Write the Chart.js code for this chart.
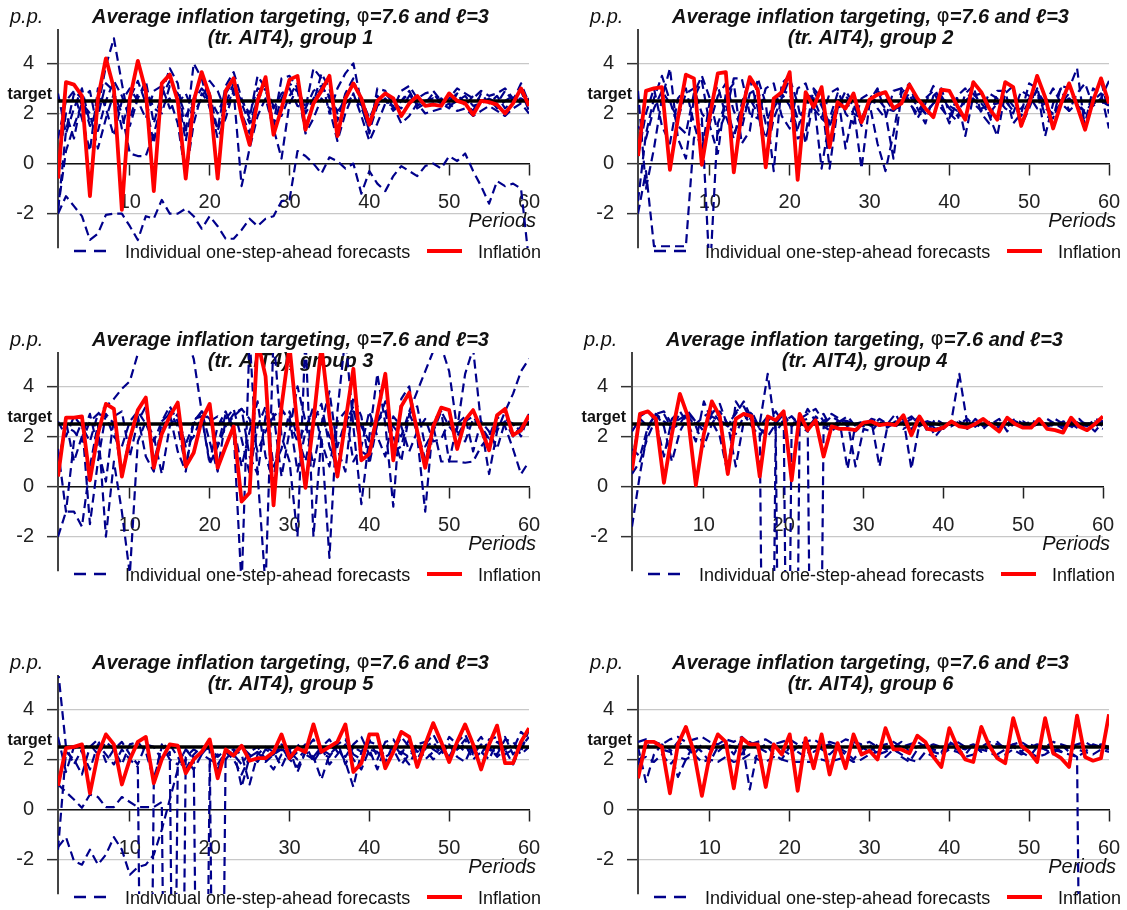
<!DOCTYPE html>
<html>
<head>
<meta charset="utf-8">
<script src="https://cdn.jsdelivr.net/npm/chart.js@4.4.1/dist/chart.umd.min.js"></script>
<style>
  html, body { margin: 0; background: #fff; overflow: hidden; }
  canvas { position: absolute; }
</style>
</head>
<body>
<canvas id="g1" width="547" height="323" style="left:0px;top:0px"></canvas>
<canvas id="g2" width="547" height="323" style="left:580px;top:0px"></canvas>
<canvas id="g3" width="547" height="323" style="left:0px;top:323px"></canvas>
<canvas id="g4" width="547" height="323" style="left:574px;top:323px"></canvas>
<canvas id="g5" width="547" height="323" style="left:0px;top:646px"></canvas>
<canvas id="g6" width="547" height="323" style="left:580px;top:646px"></canvas>
<script>
// periods and axis ticks
const periods = [1, 2, 3, 4, 5, 6, 7, 8, 9, 10, 11, 12, 13, 14, 15, 16, 17, 18, 19, 20,
  21, 22, 23, 24, 25, 26, 27, 28, 29, 30, 31, 32, 33, 34, 35, 36, 37, 38, 39, 40,
  41, 42, 43, 44, 45, 46, 47, 48, 49, 50, 51, 52, 53, 54, 55, 56, 57, 58, 59, 60];
const xTicks = [10, 20, 30, 40, 50, 60];
const yTicks = [-2, 0, 2, 4];
const target = 2.5;

const titleStart = 'Average inflation targeting, ';
const titlePhi = 'φ';
const titleEnd = '=7.6 and ℓ=3';
const subtitle = '(tr. AIT4), group ';
const legendForecast = 'Individual one-step-ahead forecasts';
const legendInflation = 'Inflation';

// group 1
const g1Inflation = [
  -0.6, 3.25, 3.15, 2.7, -1.3, 2.6, 4.2, 3.0, -1.85, 2.6,
  4.1, 2.9, -1.1, 3.2, 3.55, 2.5, -0.6, 2.5, 3.65, 2.7,
  -0.6, 2.9, 3.4, 1.9, 0.75, 2.5, 3.45, 1.15, 2.2, 3.35,
  3.5, 1.35, 2.4, 2.9, 3.5, 1.1, 2.6, 3.2, 2.6, 1.55,
  2.5, 2.8, 2.6, 1.9, 2.4, 2.7, 2.3, 2.35, 2.3, 2.8,
  2.5, 2.4, 1.95, 2.5, 2.45, 2.35, 2.0, 2.4, 3.0, 2.3];
const g1Forecasts = [
  [-2.0, -1.3, -1.7, -2.1, -3.05, -2.8, -2.05, -2.0, -2.0, -2.5,
   -3.05, -2.1, -2.2, -1.45, -2.0, -2.0, -1.8, -2.1, -2.6, -2.1,
   -2.5, -3.0, -3.0, -2.65, -2.2, -2.5, -2.2, -2.1, -1.5, -1.45,
   0.5, 0.3, 0.0, -0.4, 0.25, 0.1, -0.2, 0.0, -1.2, -0.3,
   -0.8, -1.1, -0.5, -0.1, -0.3, -0.5, -0.1, 0.0, -0.2, 0.3,
   0.1, 0.4, -0.3, -0.9, -1.6, -0.7, -0.9, -0.8, -1.0, -3.9],
  [1.0, 2.5, 2.9, 2.6, 1.5, 2.2, 3.9, 5.0, 3.2, 1.5,
   2.6, 3.3, 1.6, 2.8, 3.8, 3.2, 1.2, 4.0, 3.4, 2.2,
   1.4, 3.1, 3.65, 2.6, 1.8, 3.5, 3.0, 1.6, 3.4, 3.5,
   3.0, 2.2, 3.8, 3.4, 2.0, 3.0, 3.6, 4.0, 2.4, 1.2,
   3.0, 2.9, 2.2, 2.9, 3.1, 2.6, 2.8, 2.9, 2.5, 2.6,
   3.0, 2.8, 2.6, 2.9, 2.7, 2.8, 3.0, 2.6, 2.9, 2.1],
  [-1.8, 0.5, 1.5, 2.4, 2.0, 0.6, 1.8, 2.8, 2.0, 0.4,
   0.3, 0.3, 1.2, 2.3, 2.6, 1.6, -0.5, 1.6, 2.8, 2.4,
   1.0, 1.8, 2.9, -0.9, 0.6, 1.9, 2.6, 1.4, 0.2, 2.4,
   3.0, 1.2, 1.8, 2.6, 2.2, 0.9, 2.0, 2.8, 1.9, 0.9,
   1.6, 2.4, 2.3, 1.6, 1.9, 2.4, 2.0, 2.1, 2.2, 2.4,
   2.1, 2.2, 1.9, 2.1, 2.3, 2.1, 1.9, 2.2, 2.4, 2.0],
  [2.8, 1.2, 2.2, 3.0, 1.6, 1.9, 3.2, 2.9, 1.4, 2.6,
   3.3, 2.4, 0.8, 2.7, 3.3, 2.7, 0.9, 2.6, 3.5, 2.8,
   1.3, 2.4, 3.2, 2.0, 1.2, 2.7, 3.2, 1.5, 2.6, 3.2,
   2.9, 1.5, 2.4, 3.6, 3.0, 1.7, 2.8, 3.4, 2.3, 1.3,
   2.3, 2.6, 2.1, 2.5, 2.8, 2.2, 2.4, 2.8, 2.4, 2.2,
   2.8, 2.4, 2.1, 2.8, 2.4, 2.7, 2.2, 2.5, 3.2, 2.4],
  [-1.9, 1.3, 2.8, 1.8, 0.5, 3.0, 2.2, 1.1, 2.5, 3.0,
   2.5, 1.8, 2.9, 3.1, 2.2, 2.4, 2.8, 2.0, 2.6, 3.3,
   2.9, 2.1, 3.0, 2.5, 2.0, 3.0, 2.9, 2.2, 2.8, 3.0,
   2.3, 2.2, 2.9, 3.1, 2.6, 2.1, 2.4, 2.7, 2.2, 1.6,
   2.7, 2.4, 2.6, 2.5, 2.9, 2.3, 2.5, 2.6, 2.4, 2.5,
   2.8, 2.3, 2.7, 2.5, 2.6, 2.4, 2.9, 2.5, 2.6, 2.4],
  [0.0, 2.0, 1.0, 2.6, 2.9, 1.3, 2.5, 3.3, 2.7, 1.8,
   2.8, 3.0, 2.2, 2.0, 3.1, 2.8, 1.9, 2.5, 3.0, 2.6,
   2.0, 2.8, 3.3, 2.4, 1.6, 2.6, 3.0, 2.3, 1.9, 2.7,
   3.2, 2.0, 2.6, 3.0, 2.7, 2.0, 2.6, 3.2, 2.6, 1.8,
   2.5, 2.8, 2.4, 2.2, 2.7, 2.6, 2.3, 2.4, 2.6, 2.3,
   2.5, 2.7, 2.3, 2.4, 2.6, 2.2, 2.5, 2.7, 2.4, 2.6]
];

// group 2
const g2Inflation = [
  0.3, 2.9, 3.0, 3.05, -0.25, 1.8, 3.55, 3.4, -0.05, 1.9,
  3.6, 3.65, -0.35, 2.1, 3.45, 2.95, -0.15, 2.6, 2.85, 3.65,
  -0.65, 2.85, 2.25, 3.05, 0.65, 2.45, 2.2, 2.8, 1.65, 2.55,
  2.75, 2.85, 2.2, 2.4, 3.15, 2.6, 2.2, 1.85, 2.95, 2.9,
  2.3, 1.75, 3.25, 2.85, 2.2, 1.75, 3.25, 3.05, 1.5, 2.4,
  3.5, 2.65, 1.4, 2.4, 3.2, 2.3, 1.35, 2.5, 3.4, 2.4];
const g2Forecasts = [
  [-2.0, -0.3, -3.3, -3.3, -3.3, -3.3, -3.3, 1.0, 1.8, -4.5,
   1.6, 2.4, 1.2, 1.8, 2.6, 2.0, 1.0, 2.2, 2.8, 2.3,
   1.4, 2.4, 2.6, 1.8, 1.5, 2.3, 2.5, 2.0, 1.8, 2.4,
   2.6, 2.2, 2.1, 2.5, 2.7, 2.3, 2.0, 2.4, 2.6, 2.3,
   2.1, 2.5, 2.6, 2.2, 2.3, 2.4, 2.5, 2.1, 2.2, 2.6,
   2.7, 2.2, 2.0, 2.4, 2.6, 2.3, 2.1, 2.4, 2.5, 2.3],
  [2.9, -1.0, 0.6, 2.6, 3.8, 1.0, 0.2, 2.6, 3.3, 1.5,
   0.4, 2.8, 3.2, 0.8, 1.3, 3.4, 2.4, -0.3, 3.2, 3.5,
   1.0, 1.2, 3.0, 2.6, -0.2, 2.2, 2.9, 2.4, 1.5, 2.5,
   3.0, 2.0, 0.2, 2.8, 3.2, 2.2, 1.6, 2.7, 3.0, 2.0,
   1.7, 2.8, 3.1, 2.0, 1.6, 2.9, 2.9, 1.6, 2.0, 3.2,
   3.0, 1.9, 1.8, 3.1, 3.0, 3.8, 1.4, 2.6, 3.3, 2.0],
  [0.3, 2.0, 3.0, 1.5, 0.8, 2.6, 3.0, 1.6, 0.5, 2.5,
   3.1, 1.9, 1.0, 2.4, 3.4, 2.2, 0.2, 1.8, 2.6, 3.4,
   2.4, 0.8, 2.6, -0.2, 1.8, 2.8, 0.6, 2.2, -0.2, 2.4,
   0.8, -0.3, 1.2, 3.0, 2.5, 1.8, 2.4, 3.1, 2.4, 1.6,
   2.6, 1.1, 2.7, 2.8, 1.9, 1.1, 2.8, 3.1, 1.5, 2.2,
   3.0, 1.1, 2.4, 3.0, 2.1, 2.4, 1.6, 3.0, 2.8, 1.4],
  [1.5, 1.0, 2.2, 2.9, 2.4, 1.8, 2.8, 3.0, 2.0, 1.6,
   2.7, 3.2, 2.1, 1.4, 2.8, 3.0, 1.6, 2.4, 2.9, 2.8,
   1.8, 2.2, 2.9, 2.3, 1.6, 2.4, 2.7, 2.3, 1.8, 2.5,
   2.9, 2.6, 2.1, 2.4, 2.8, 2.5, 2.0, 2.4, 2.7, 2.2,
   1.9, 2.5, 2.8, 2.4, 2.0, 2.4, 2.7, 2.3, 1.9, 2.5,
   2.9, 2.4, 1.9, 2.4, 2.8, 2.5, 2.0, 2.5, 2.8, 2.3],
  [-1.5, 1.2, 2.6, 3.5, 2.5, 1.5, 1.2, 2.8, 3.5, 2.6,
   1.2, 2.0, 3.4, 3.4, 2.0, 1.8, 3.0, 3.2, 1.9, 1.4,
   3.0, 3.2, 2.2, 1.8, 2.8, 3.0, 2.0, 1.6, 2.6, 2.8,
   2.2, 1.8, 2.9, 3.0, 2.4, 2.0, 2.6, 2.9, 2.2, 1.8,
   2.7, 3.0, 2.4, 2.1, 2.8, 2.6, 2.2, 2.0, 2.9, 2.7,
   2.2, 2.4, 3.0, 2.4, 2.1, 2.8, 3.2, 2.3, 2.6, 3.3]
];

// group 3
const g3Inflation = [
  0.4, 2.75, 2.75, 2.8, 0.25, 2.1, 3.3, 3.1, 0.4, 1.9,
  3.05, 3.55, 0.75, 2.1, 2.8, 3.35, 0.8, 1.35, 2.65, 3.3,
  0.75, 1.6, 2.4, -0.6, -0.25, 5.8, 4.4, -0.75, 3.2, 5.6,
  2.4, -0.05, 2.6, 5.6, 2.8, 0.4, 2.6, 4.7, 1.05, 1.3,
  2.9, 4.5, 1.05, 3.2, 3.75, 2.2, 0.75, 2.4, 3.15, 3.05,
  1.5, 2.65, 3.05, 2.3, 1.45, 2.85, 3.1, 2.05, 2.25, 2.85];
const g3Forecasts = [
  [1.0, 2.4, 2.2, 1.8, 2.6, 2.9, 3.2, 3.5, 3.9, 4.2,
   5.3, 6.4, 7.0, 7.2, 7.0, 6.6, 6.0, 5.1, 3.0, 2.6,
   2.8, 2.4, 2.9, 3.1, 2.7, 1.4, 2.2, 2.8, 3.1, 2.6,
   1.8, 2.4, 3.0, 2.8, 2.0, 1.6, 2.6, 3.0, 2.4, 1.8,
   2.7, 3.0, 2.4, 2.0, 3.0, 3.8, 4.6, 5.4, 5.6, 4.6,
   2.3, 4.5, 5.5, 2.5, 0.5, 2.2, 3.0, 3.7, 4.6, 5.1],
  [-2.0, -1.0, -1.0, -1.6, 0.8, 2.5, -2.0, 1.0, -1.0, -3.5,
   1.8, 2.6, 2.0, 0.5, 2.4, 2.9, 1.6, 2.0, 2.8, 1.0,
   2.4, 3.0, 2.2, -4.0, 6.0, 0.5, -4.0, 6.0, 2.0, 1.0,
   -2.0, 6.0, -2.0, 2.0, -2.85, 3.0, 6.0, 2.4, -0.7, 2.0,
   4.5, 2.5, -0.8, 3.5, 4.0, 2.0, -1.0, 2.6, 3.0, 1.0,
   2.5, 2.8, 1.4, 2.6, 2.2, 1.5, 2.6, 2.5, 2.0, 2.9],
  [0.5, 2.6, 1.0, 2.0, 2.9, 1.5, 0.2, 2.8, 3.0, 1.2,
   2.6, 3.2, 1.0, 2.2, 3.0, 2.4, 0.8, 2.6, 3.0, 1.8,
   0.6, 2.7, 3.1, 1.9, 0.5, 2.4, 3.2, 0.8, 1.5, 3.0,
   2.0, 1.0, 2.6, 3.3, 1.6, 0.7, 2.5, 3.2, 1.4, 1.2,
   2.6, 3.0, 1.4, 1.6, 2.9, 2.2, 1.1, 2.4, 1.0, 1.0,
   1.0, 0.95, 1.0, 1.6, 2.0, 2.8, 2.4, 1.5, 0.5, 1.0],
  [2.6, 2.0, 2.8, 2.4, 1.8, 2.9, 2.8, 2.0, 1.6, 2.6,
   3.0, 2.5, 1.8, 2.6, 3.2, 2.6, 1.7, 2.5, 3.0, 2.7,
   1.6, 2.4, 2.8, 3.1, 1.2, 0.5, 2.8, 2.9, 0.4, 2.2,
   4.0, 2.6, 0.8, 2.5, 3.8, 1.5, 0.6, 3.6, 2.8, 0.9,
   2.5, 3.4, 2.0, 1.0, 2.9, 3.2, 1.6, 2.2, 3.0, 2.4,
   2.0, 2.6, 2.8, 2.3, 1.8, 2.4, 2.7, 2.5, 2.2, 2.8],
  [1.5, -1.0, 1.8, 2.6, -1.5, 1.0, 2.9, 2.5, 0.5, 2.0,
   2.8, 1.2, 0.6, 2.6, 2.9, 1.4, 0.6, 2.7, 2.8, 0.9,
   1.6, 2.9, 2.4, 0.8, 2.2, 3.4, 1.2, 0.2, 3.0, 2.8,
   0.6, 2.2, 3.2, 1.8, 0.8, 2.6, 3.0, 1.0, 1.6, 3.0,
   2.0, 1.2, 2.8, 2.4, 1.4, 2.2, 2.7, 1.8, 1.9, 2.6,
   2.2, 1.8, 2.7, 2.4, 1.9, 2.3, 2.6, 2.0, 2.4, 2.6]
];

// group 4
const g4Inflation = [
  0.65, 2.9, 3.0, 2.7, 0.15, 2.1, 3.7, 2.8, 0.05, 2.1,
  3.4, 2.8, 0.5, 2.7, 2.9, 2.8, 0.4, 2.8, 2.65, 3.0,
  0.25, 2.9, 2.25, 2.65, 1.2, 2.4, 2.3, 2.3, 2.25, 2.55,
  2.6, 2.45, 2.5, 2.45, 2.85, 2.05, 2.8, 2.3, 2.25, 2.35,
  2.6, 2.4, 2.35, 2.5, 2.7, 2.45, 2.2, 2.75, 2.5, 2.35,
  2.35, 2.7, 2.3, 2.25, 2.15, 2.75, 2.4, 2.25, 2.5, 2.8];
const g4Forecasts = [
  [-1.6, 0.5, 2.3, 2.9, 2.6, 2.4, 2.9, 2.7, 2.5, 2.8,
   3.0, 2.6, 2.4, 3.0, 3.2, 2.6, 2.5, 4.5, 2.2, 2.6,
   2.8, 2.5, 2.4, 2.7, 2.9, 2.3, 2.6, 2.8, 2.4, 2.5,
   2.6, 2.45, 2.35, 2.6, 2.5, 2.3, 2.65, 2.4, 2.5, 2.4,
   2.6, 4.5, 2.5, 2.4, 2.65, 2.5, 2.35, 2.6, 2.5, 2.4,
   2.65, 2.5, 2.4, 2.6, 2.45, 2.35, 2.6, 2.5, 2.4, 2.6],
  [0.5, 1.0, 2.0, 2.7, 2.9, 2.3, 2.5, 3.0, 2.6, 2.2,
   2.9, 3.3, 2.4, 2.1, 2.8, 2.9, 2.3, -30, 2.4, -30,
   2.6, 2.4, 2.2, 2.8, 2.5, 2.3, 2.7, 2.4, 2.2, 2.5,
   2.6, 0.8, 2.4, 2.5, 2.7, 0.7, 2.5, 2.6, 2.3, 2.4,
   2.6, 2.5, 2.6, 2.4, 2.5, 2.6, 2.4, 2.5, 2.7, 2.5,
   2.4, 2.6, 2.5, 2.4, 2.6, 2.5, 2.3, 2.5, 2.6, 2.4],
  [1.5, 1.2, 2.4, 2.9, 2.4, 1.0, 2.2, 2.8, 2.4, 1.6,
   2.5, 3.0, 2.5, 0.8, 2.6, 3.0, 2.3, 2.0, 2.5, 2.9,
   -30, 2.6, 2.7, -30, 2.4, 2.2, 2.5, 2.6, 0.8, 2.3,
   2.2, 2.6, 2.5, 2.4, 2.6, 2.8, 2.5, 2.6, 2.0, 2.4,
   2.5, 2.6, 2.4, 2.5, 2.3, 2.6, 2.5, 2.4, 2.6, 2.4,
   2.5, 2.6, 2.4, 2.5, 2.3, 2.6, 2.4, 2.5, 2.2, 2.6],
  [1.0, 2.8, 3.0, 2.6, 1.2, 2.7, 3.0, 2.5, 1.8, 3.4,
   2.6, 2.0, 0.5, 3.4, 2.9, 2.4, 2.0, 2.6, 3.0, 2.5,
   2.8, 2.4, 3.1, 2.6, 2.5, 2.8, 2.6, 0.7, 2.5, 2.6,
   2.4, 2.7, 2.5, 2.9, 2.3, 2.5, 2.8, 2.2, 2.7, 2.5,
   2.4, 2.6, 2.3, 2.7, 2.4, 2.5, 2.7, 2.2, 2.6, 2.5,
   2.3, 2.6, 2.4, 2.7, 2.5, 2.4, 2.7, 2.4, 2.5, 2.3],
  [2.2, 2.7, 2.4, 2.9, 3.0, 2.5, 2.7, 2.9, 2.6, 2.4,
   2.8, 2.6, 2.5, 2.9, 3.4, 2.7, 2.4, 2.8, 2.6, 2.9,
   2.4, 2.7, 2.9, 3.1, 2.6, 2.9, 2.7, 2.6, 2.5, 2.4,
   2.7, 2.6, 2.4, 2.6, 2.5, 2.7, 2.4, 2.6, 2.5, 2.3,
   2.6, 2.5, 2.7, 2.4, 2.6, 2.5, 2.4, 2.7, 2.5, 2.6,
   2.4, 2.5, 2.7, 2.5, 2.4, 2.6, 2.5, 2.4, 2.7, 2.6]
];

// group 5
const g5Inflation = [
  0.95, 2.45, 2.5, 2.6, 0.65, 2.2, 3.0, 2.6, 1.0, 2.0,
  2.7, 2.9, 1.05, 2.0, 2.6, 2.55, 1.45, 2.0, 2.3, 2.8,
  1.25, 2.4, 2.15, 2.55, 1.95, 2.05, 2.05, 2.3, 3.0, 2.05,
  2.45, 2.3, 3.4, 2.3, 2.5, 2.7, 3.4, 1.5, 1.85, 3.0,
  3.0, 1.65, 2.3, 3.1, 2.9, 1.7, 2.6, 3.45, 2.7, 1.9,
  2.7, 3.4, 2.6, 1.6, 2.6, 3.35, 1.85, 1.85, 2.7, 3.25];
const g5Forecasts = [
  [5.6, 2.5, 1.8, 2.4, 2.6, 2.2, 2.7, 2.4, 1.8, 2.6,
   2.7, 2.3, 1.2, 2.5, 2.6, 2.1, 1.6, 2.2, 2.5, 2.4,
   1.6, 2.3, 2.4, 2.2, 1.0, 2.2, 2.5, 2.3, 1.7, 2.4,
   2.6, 2.2, 2.0, 2.5, 2.8, 2.3, 2.1, 2.6, 2.9, 2.2,
   2.0, 2.7, 2.8, 2.3, 2.1, 2.6, 2.7, 2.4, 2.2, 2.9,
   2.6, 2.3, 2.5, 2.9, 2.4, 2.2, 2.8, 2.7, 2.3, 3.2],
  [-1.5, -1.1, -2.05, -2.2, -1.6, -2.2, -1.8, -1.1, -1.6, -2.6,
   -2.3, -2.2, -1.8, -0.8, 0.4, 1.6, 2.0, 1.6, 2.2, 2.0,
   1.8, 2.3, 2.0, 1.4, 2.1, 2.3, 1.9, 2.2, 2.4, 2.0,
   1.7, 2.3, 2.1, 2.5, 1.8, 2.2, 2.6, 2.0, 1.6, 2.4,
   2.3, 1.9, 2.6, 2.2, 1.8, 2.5, 2.4, 2.0, 2.3, 2.6,
   2.1, 1.9, 2.6, 2.3, 2.0, 2.7, 2.4, 1.8, 2.5, 2.9],
  [1.0, 0.7, 0.4, 0.07, 0.6, 0.5, 0.1, 0.1, 0.5, 0.3,
   0.1, 0.1, 0.1, 0.3, -30, 1.8, 2.4, 2.0, 2.3, 2.5,
   2.1, 2.4, 2.2, 1.8, 2.3, 2.5, 2.0, 2.2, 2.6, 2.3,
   2.0, 2.4, 2.8, 2.2, 2.1, 2.6, 2.8, 2.2, 2.0, 2.7,
   2.6, 2.1, 2.3, 2.9, 2.5, 2.0, 2.6, 3.0, 2.4, 2.1,
   2.7, 3.0, 2.3, 2.2, 2.8, 2.9, 2.2, 2.4, 3.1, 2.8],
  [2.9, 1.5, 2.5, 2.3, 1.6, 2.6, 2.2, 1.8, 2.4, 2.0,
   1.7, -30, 1.1, 2.6, 2.0, 1.8, 2.4, 2.1, -30, 1.8,
   2.2, 2.0, 2.4, 0.9, 2.1, 2.3, 2.0, 1.6, 2.2, 2.4,
   1.5, 2.3, 2.1, 1.2, 2.2, 2.5, 1.9, 0.9, 2.3, 2.4,
   1.6, 2.5, 2.4, 1.8, 2.2, 2.6, 2.0, 2.3, 2.5, 2.1,
   2.4, 2.6, 2.0, 2.3, 2.5, 2.1, 2.4, 2.6, 2.2, 2.5],
  [-1.6, 2.3, 2.0, 1.4, 2.5, 2.8, 1.9, 2.4, 2.7, 2.2,
   1.8, 2.6, 2.5, 2.0, 2.3, -30, 2.1, 2.4, 2.2, 2.6,
   -30, 2.3, 2.1, 2.5, 2.2, 1.9, 2.4, 2.2, 2.5, 2.0,
   2.3, 2.6, 1.9, 2.4, 2.2, 2.7, 1.8, 2.5, 2.3, 2.8,
   2.1, 2.6, 2.4, 2.2, 2.8, 2.3, 2.5, 2.7, 2.2, 2.6,
   2.4, 2.8, 2.2, 2.6, 2.4, 2.3, 2.9, 2.2, 2.6, 2.8]
];

// group 6
const g6Inflation = [
  1.25, 2.7, 2.7, 2.5, 0.65, 2.6, 3.3, 2.3, 0.55, 2.2,
  3.0, 2.7, 0.85, 2.85, 2.6, 2.6, 0.9, 2.6, 2.2, 3.0,
  0.75, 2.85, 1.65, 3.0, 1.4, 2.65, 1.65, 3.0, 2.2, 2.35,
  2.0, 3.25, 2.4, 2.4, 2.25, 2.95, 2.7, 2.1, 1.7, 3.25,
  2.5, 2.0, 1.9, 3.3, 2.55, 2.05, 1.85, 3.65, 2.55, 2.3,
  1.9, 3.65, 2.25, 2.05, 1.7, 3.75, 2.1, 1.95, 2.05, 3.8];
const g6Forecasts = [
  [2.5, 1.1, 2.2, 2.6, 2.4, 1.3, 2.0, 2.6, 2.3, 1.9,
   2.5, 2.6, 2.2, 2.8, 0.8, 2.4, 2.6, 2.2, 2.0, 2.5,
   2.3, 2.1, 2.6, 2.4, 2.2, 2.5, 2.3, 2.0, 2.4, 2.6,
   2.2, 2.3, 2.5, 2.1, 1.9, 2.4, 2.6, 2.3, 2.2, 2.5,
   2.4, 2.2, 2.6, 2.3, 2.5, 2.2, 2.4, 2.6, 2.3, 2.1,
   2.5, 2.4, 2.2, 2.6, 2.3, 2.1, -30, -30, -30, -30],
  [2.7, 2.8, 2.7, 2.6, 2.8, 2.9, 2.7, 2.8, 2.9, 2.7,
   2.6, 2.8, 2.7, 2.9, 2.6, 2.7, 2.8, 2.6, 2.7, 2.8,
   2.6, 2.7, 2.8, 2.6, 2.7, 2.6, 2.8, 2.7, 2.6, 2.7,
   2.5, 2.6, 2.7, 2.5, 2.6, 2.7, 2.5, 2.6, 2.5, 2.6,
   2.7, 2.5, 2.6, 2.5, 2.7, 2.6, 2.5, 2.6, 2.7, 2.5,
   2.6, 2.5, 2.7, 2.6, 2.5, 2.6, 2.7, 2.5, 2.6, 2.5],
  [2.0, 2.1, 1.9, 2.2, 1.8, 2.1, 2.0, 2.2, 1.9, 2.0,
   1.9, 2.1, 1.9, 2.0, 2.2, 2.0, 1.9, 2.1, 2.0, 1.9,
   1.9, 1.9, 1.9, 2.0, 1.9, 2.0, 2.1, 1.9, 2.0, 2.2,
   2.3, 2.1, 2.4, 2.2, 2.0, 1.9, 2.3, 2.1, 2.2, 2.4,
   2.3, 2.1, 2.2, 2.4, 2.3, 2.1, 2.2, 2.4, 2.2, 2.3,
   2.1, 2.2, 2.4, 2.3, 2.2, 2.1, 2.3, 2.2, 2.4, 2.3],
  [1.8, 2.5, 2.7, 2.4, 2.3, 2.7, 2.5, 2.2, 2.6, 2.4,
   2.3, 2.6, 2.5, 2.2, 2.7, 2.5, 2.3, 2.6, 2.4, 2.2,
   2.5, 2.7, 2.3, 2.5, 2.6, 2.4, 2.2, 2.6, 2.5, 2.3,
   2.6, 2.4, 2.5, 2.7, 2.3, 2.5, 2.6, 2.4, 2.3, 2.7,
   2.5, 2.4, 2.6, 2.3, 2.5, 2.7, 2.4, 2.5, 2.3, 2.6,
   2.5, 2.4, 2.6, 2.3, 2.5, 2.4, 2.3, 2.6, 2.5, 2.4]
];

const FONT = '"Liberation Sans", Arial, sans-serif';
const NAVY = '#00008b';
const RED = '#ff0000';

// titles, p.p., target label, "Periods" and the legend
const panelText = {
  id: 'panelText',
  beforeDatasetsDraw(chart, args, opts) {
    const {ctx, chartArea: a} = chart;
    const y = chart.scales.y;
    ctx.save();
    ctx.fillStyle = '#111';
    ctx.textBaseline = 'middle';

    ctx.textAlign = 'left';
    ctx.font = 'italic 20px ' + FONT;
    ctx.fillText('p.p.', 10, 17);

    const cx = (a.left + a.right) / 2 - 3;
    const bi = 'italic bold 20px ' + FONT;
    const parts = [[bi, titleStart], ['20px "DejaVu Sans"', titlePhi], [bi, titleEnd]];
    let w = 0;
    parts.forEach(([f, t]) => { ctx.font = f; w += ctx.measureText(t).width; });
    let x = cx - w / 2;
    parts.forEach(([f, t]) => {
      ctx.font = f;
      ctx.fillText(t, x, 17);
      x += ctx.measureText(t).width;
    });
    ctx.font = bi;
    ctx.textAlign = 'center';
    ctx.fillText(subtitle + opts.group, cx, 38);

    ctx.font = 'bold 16px ' + FONT;
    ctx.textAlign = 'right';
    ctx.fillText('target', a.left - 6, y.getPixelForValue(target) - 6);

    ctx.font = 'italic 20px ' + FONT;
    ctx.fillText('Periods', a.right + 7, 221);

    // legend
    ctx.lineWidth = 2.5;
    ctx.strokeStyle = NAVY;
    ctx.setLineDash([12, 8]);
    ctx.beginPath();
    ctx.moveTo(a.left + 16, 251);
    ctx.lineTo(a.left + 49, 251);
    ctx.stroke();
    ctx.setLineDash([]);
    ctx.strokeStyle = RED;
    ctx.lineWidth = 4;
    ctx.beginPath();
    ctx.moveTo(a.left + 369, 251);
    ctx.lineTo(a.left + 404, 251);
    ctx.stroke();
    ctx.font = '18px ' + FONT;
    ctx.textAlign = 'left';
    ctx.fillText(legendForecast, a.left + 67, 253);
    ctx.fillText(legendInflation, a.left + 420, 253);
    ctx.restore();
  }
};

function toPoints(vals) {
  return periods.map((p, i) => ({x: p, y: vals[i]}));
}

function makePanel(id, group, inflation, forecasts) {
  const datasets = forecasts.map(f => ({
    data: toPoints(f),
    borderColor: NAVY,
    borderWidth: 2.2,
    borderDash: [9, 5],
    order: 2
  }));
  datasets.push({
    data: [{x: periods[0], y: target}, {x: periods[periods.length - 1], y: target}],
    borderColor: '#000',
    borderWidth: 3.5,
    order: 1
  });
  datasets.push({
    data: toPoints(inflation),
    borderColor: RED,
    borderWidth: 3.8,
    order: 0
  });

  new Chart(document.getElementById(id), {
    type: 'line',
    data: {datasets},
    options: {
      responsive: false,
      animation: false,
      events: [],
      layout: {padding: {top: 30, bottom: 75, left: 0, right: 18}},
      elements: {
        point: {radius: 0},
        line: {tension: 0, borderJoinStyle: 'round', fill: false}
      },
      plugins: {
        legend: {display: false},
        tooltip: {enabled: false},
        panelText: {group}
      },
      scales: {
        x: {
          type: 'linear',
          min: 1,
          max: 60,
          position: {y: 0},
          afterBuildTicks: s => { s.ticks = xTicks.map(v => ({value: v})); },
          afterFit: s => { s.paddingLeft = 0; s.paddingRight = 0; },
          grid: {drawOnChartArea: false, drawTicks: true, tickLength: 11, tickColor: '#222', tickWidth: 1.5},
          border: {color: '#111', width: 1.5},
          ticks: {font: {family: FONT, size: 20}, color: '#222', padding: 16, maxRotation: 0, autoSkip: false}
        },
        y: {
          min: -3.37,
          max: 5.33,
          afterBuildTicks: s => { s.ticks = yTicks.map(v => ({value: v})); },
          afterFit: s => { s.width = 58; },
          grid: {color: '#c8c8c8', lineWidth: 1.3, tickLength: 11, tickColor: '#333', tickWidth: 1.5},
          border: {color: '#444', width: 2},
          ticks: {font: {family: FONT, size: 20}, color: '#222', padding: 13}
        }
      }
    },
    plugins: [panelText]
  });
}

makePanel('g1', 1, g1Inflation, g1Forecasts);
makePanel('g2', 2, g2Inflation, g2Forecasts);
makePanel('g3', 3, g3Inflation, g3Forecasts);
makePanel('g4', 4, g4Inflation, g4Forecasts);
makePanel('g5', 5, g5Inflation, g5Forecasts);
makePanel('g6', 6, g6Inflation, g6Forecasts);
</script>
</body>
</html>
